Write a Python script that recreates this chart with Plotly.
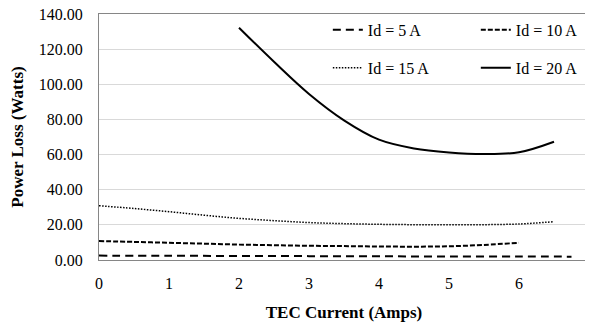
import plotly.graph_objects as go

x5 = [0, 1, 2, 3, 4, 5, 6, 6.75]
y5 = [2.5, 2.4, 2.3, 2.2, 2.1, 2.0, 2.0, 1.9]

x10 = [0, 0.5, 1, 1.5, 2, 2.5, 3, 3.5, 4, 4.5, 5, 5.5, 6]
y10 = [10.8, 10.3, 9.8, 9.3, 8.8, 8.4, 8.1, 7.9, 7.7, 7.6, 7.8, 8.6, 9.8]

x15 = [0, 0.5, 1, 1.5, 2, 2.5, 3, 3.5, 4, 4.5, 5, 5.5, 6, 6.5]
y15 = [30.9, 29.3, 27.5, 25.5, 23.7, 22.4, 21.3, 20.7, 20.3, 20.1, 20.0, 20.1, 20.5, 21.8]

x20 = [2, 2.5, 3, 3.5, 4, 4.5, 5, 5.5, 6, 6.5]
y20 = [132.2, 112.8, 94.5, 79.5, 68.5, 63.5, 61.2, 60.3, 61.3, 67.3]

names = ["Id = 5 A", "Id = 10 A", "Id = 15 A", "Id = 20 A"]

FONT = "Liberation Serif"

fig = go.Figure()
fig.add_trace(go.Scatter(x=x5, y=y5, name=names[0], mode="lines",
                         line=dict(color="black", width=2, dash="8px,5px", shape="spline"),
                         legend="legend"))
fig.add_trace(go.Scatter(x=x10, y=y10, name=names[1], mode="lines",
                         line=dict(color="black", width=2, dash="5px,2px", shape="spline"),
                         legend="legend2"))
fig.add_trace(go.Scatter(x=x15, y=y15, name=names[2], mode="lines",
                         line=dict(color="black", width=1.5, dash="1.5px,1.5px", shape="spline"),
                         legend="legend3"))
fig.add_trace(go.Scatter(x=x20, y=y20, name=names[3], mode="lines",
                         line=dict(color="black", width=2, shape="spline"),
                         legend="legend4"))

leg_common = dict(xanchor="left", yanchor="middle", borderwidth=0,
                  bgcolor="rgba(0,0,0,0)", font=dict(family=FONT, size=16, color="black"),
                  itemwidth=30)

c1 = 0.467
c2 = 0.769
r1 = 0.936
r2 = 0.781

fig.update_layout(
    width=585, height=314,
    margin=dict(l=91, r=4, t=6, b=62, autoexpand=False),
    paper_bgcolor="white", plot_bgcolor="white",
    font=dict(family=FONT, size=16, color="black"),
    showlegend=True,
    legend=dict(x=c1, y=r1, **leg_common),
    legend2=dict(x=c2, y=r1, **leg_common),
    legend3=dict(x=c1, y=r2, **leg_common),
    legend4=dict(x=c2, y=r2, **leg_common),
    xaxis=dict(range=[0, 7], dtick=1, tick0=0, showgrid=False, zeroline=False,
               showline=True, linecolor="#868686", linewidth=1, mirror=True, automargin=False,
               ticks="", ticklabelstandoff=9, ticklabeloverflow="allow",
               tickfont=dict(family=FONT, size=16, color="black"),
               title=dict(text="<b>TEC Current (Amps)</b>", font=dict(family=FONT, size=17, color="black"),
                          standoff=14)),
    yaxis=dict(range=[0, 140], dtick=20, tick0=0, tickformat=".2f", showgrid=True,
               gridcolor="#d9d9d9", gridwidth=1, zeroline=False, automargin=False,
               showline=True, linecolor="#868686", linewidth=1, mirror=True,
               ticks="", ticklabelstandoff=12, ticklabeloverflow="allow",
               tickfont=dict(family=FONT, size=16, color="black"),
               title=dict(text="<b>Power Loss (Watts)</b>", font=dict(family=FONT, size=17, color="black"),
                          standoff=12)),
)

fig.write_html("out.html")
